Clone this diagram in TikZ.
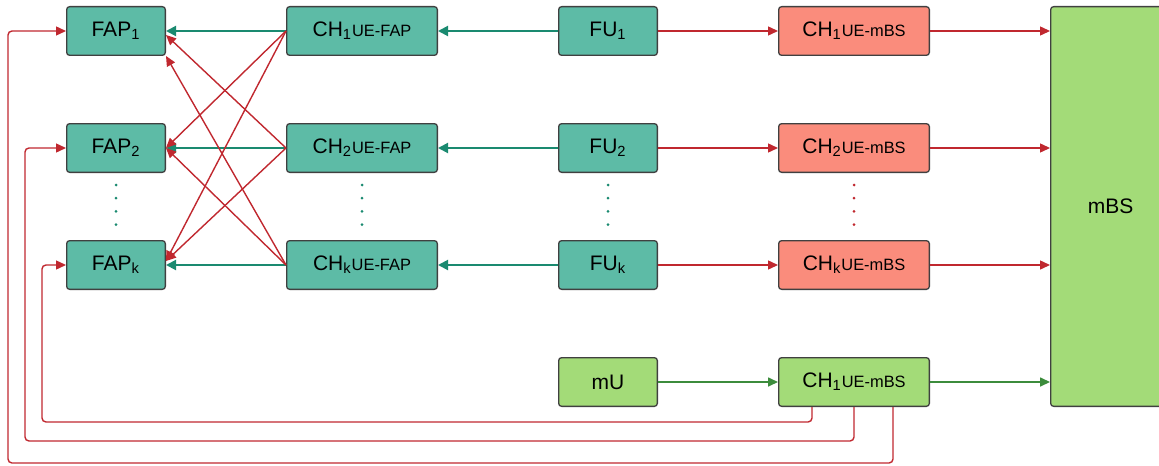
\documentclass[tikz,border=0pt]{standalone}
\usepackage{fontspec}
\setmainfont{Liberation Sans}
\usetikzlibrary{positioning,arrows.meta}
\definecolor{fapfill}{RGB}{93,187,166}
\definecolor{fapline}{RGB}{26,138,112}
\definecolor{mbsred}{RGB}{250,140,124}
\definecolor{redline}{RGB}{192,40,47}
\definecolor{mfill}{RGB}{163,219,120}
\definecolor{mline}{RGB}{60,140,60}
\newcommand{\chname}[2]{CH\textsubscript{#1}{\fontsize{8.2}{9}\selectfont #2}}

\begin{document}
\begin{tikzpicture}[
                  font=\fontsize{10.5}{12}\selectfont,
                  blk/.style={draw=black!75,line width=0.65pt,rounded corners=1.5pt,minimum height=24.35pt,inner sep=2pt},
                  sq/.style={blk,minimum width=49.35pt},
                  wide/.style={blk,minimum width=75.35pt},
                  tl/.style={fapline,line width=1pt,-{Triangle[length=5pt,width=5pt]}},
                  rl/.style={redline,line width=0.7pt,-{Triangle[length=5pt,width=4.5pt]}},
                  gl/.style={mline,line width=0.8pt,-{Triangle[length=5pt,width=4.5pt]}},
                  dots/.style={line width=1.5pt,dash pattern=on 0pt off 6.6pt,line cap=round,shorten <=6pt,shorten >=5.5pt},
                  node distance=33.5pt and 60pt
                ]
                \useasboundingbox (0,0) rectangle (579.5pt,-232.5pt);
                % femto access points and their channels
                \node[sq,fill=fapfill,anchor=north west] (fap1) at (33pt,-3pt) {FAP\textsubscript{1}};
                \node[sq,fill=fapfill,below=of fap1] (fap2) {FAP\textsubscript{2}};
                \node[sq,fill=fapfill,below=of fap2] (fapk) {FAP\textsubscript{k}};
                \node[wide,fill=fapfill,right=of fap1] (chf1) {\chname{1}{UE-FAP}};
                \node[wide,fill=fapfill,right=of fap2] (chf2) {\chname{2}{UE-FAP}};
                \node[wide,fill=fapfill,right=of fapk] (chfk) {\chname{k}{UE-FAP}};
                % users
                \node[sq,fill=fapfill,right=of chf1] (fu1) {FU\textsubscript{1}};
                \node[sq,fill=fapfill,right=of chf2] (fu2) {FU\textsubscript{2}};
                \node[sq,fill=fapfill,right=of chfk] (fuk) {FU\textsubscript{k}};
                \node[sq,fill=mfill,below=of fuk] (mu) {mU};
                % channels to the macro base station
                \node[wide,fill=mbsred,right=of fu1] (chm1) {\chname{1}{UE-mBS}};
                \node[wide,fill=mbsred,right=of fu2] (chm2) {\chname{2}{UE-mBS}};
                \node[wide,fill=mbsred,right=of fuk] (chmk) {\chname{k}{UE-mBS}};
                \node[wide,fill=mfill,right=of mu] (chg) {\chname{1}{UE-mBS}};
                \node[blk,fill=mfill,minimum width=60pt,minimum height=199.85pt,anchor=north west] (mbs) at ([xshift=60pt]chm1.north east) {mBS};
                
                \draw[fapline,dots] (fap2.south) -- (fapk.north);
                \draw[fapline,dots] (chf2.south) -- (chfk.north);
                \draw[fapline,dots] (fu2.south) -- (fuk.north);
                \draw[redline,dots] (chm2.south) -- (chmk.north);
                
                \draw[tl] (fu1.west) -- (chf1.east);
                \draw[tl] (fu2.west) -- (chf2.east);
                \draw[tl] (fuk.west) -- (chfk.east);
                \draw[tl] (chf1.west) -- (fap1.east);
                \draw[tl] (chf2.west) -- (fap2.east);
                \draw[tl] (chfk.west) -- (fapk.east);
                % interference between femto cells
                \draw[rl] (chf1.west) -- (fap2.east);
                \draw[rl] (chf1.west) -- ([yshift=2pt]fapk.east);
                \draw[rl] (chf2.west) -- ([yshift=-2pt]fap1.east);
                \draw[rl] (chf2.west) -- ([yshift=2pt]fapk.east);
                \draw[rl] (chfk.west) -- (fap1.south east);
                \draw[rl] (chfk.west) -- (fap2.east);
                
                \draw[rl] (fu1.east) -- (chm1.west);
                \draw[rl] (fu2.east) -- (chm2.west);
                \draw[rl] (fuk.east) -- (chmk.west);
                \draw[rl] (chm1.east) -- (mbs.west |- chm1.east);
                \draw[rl] (chm2.east) -- (mbs.west |- chm2.east);
                \draw[rl] (chmk.east) -- (mbs.west |- chmk.east);
                \draw[gl] (mu.east) -- (chg.west);
                \draw[gl] (chg.east) -- (mbs.west |- chg.east);
                % macro user interference back to the FAPs
                \draw[rl,rounded corners=2pt] ([xshift=-21pt]chg.south) -- ++(0,-7.5pt) -| ([xshift=-12pt]fapk.west) -- (fapk.west);
                \draw[rl,rounded corners=2pt] (chg.south) -- ++(0,-17pt) -| ([xshift=-20.5pt]fap2.west) -- (fap2.west);
                \draw[rl,rounded corners=2pt] ([xshift=19.5pt]chg.south) -- ++(0,-28pt) -| ([xshift=-29pt]fap1.west) -- (fap1.west);
                \end{tikzpicture}
\end{document}
